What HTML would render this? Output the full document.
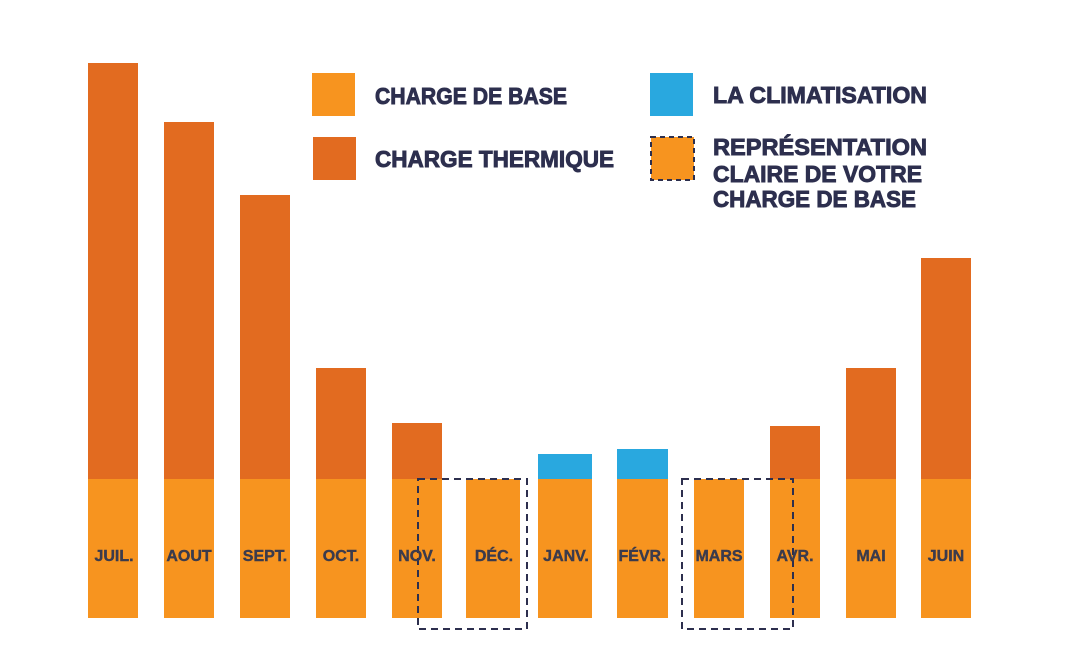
<!DOCTYPE html>
<html><head><meta charset="utf-8"><style>body{margin:0;background:#fff}svg{display:block}</style></head><body>
<svg width="1067" height="666" viewBox="0 0 1067 666" xmlns="http://www.w3.org/2000/svg" font-family="Liberation Sans, sans-serif" font-weight="bold">
<g fill="#e26b20">
<rect x="88" y="63" width="50" height="416"/>
<rect x="164" y="122" width="50" height="357"/>
<rect x="240" y="195" width="50" height="284"/>
<rect x="316" y="368" width="50" height="111"/>
<rect x="392" y="423" width="50" height="56"/>
<rect x="770" y="426" width="50" height="53"/>
<rect x="846" y="368" width="50" height="111"/>
<rect x="921" y="258" width="50" height="221"/>
</g>
<g fill="#29a8df">
<rect x="538" y="454" width="54" height="25"/>
<rect x="617" y="449" width="51" height="30"/>
</g>
<g fill="#f7941f">
<rect x="88" y="479" width="50" height="139"/>
<rect x="164" y="479" width="50" height="139"/>
<rect x="240" y="479" width="50" height="139"/>
<rect x="316" y="479" width="50" height="139"/>
<rect x="392" y="479" width="50" height="139"/>
<rect x="466" y="479" width="54" height="139"/>
<rect x="538" y="479" width="54" height="139"/>
<rect x="617" y="479" width="51" height="139"/>
<rect x="694" y="479" width="50" height="139"/>
<rect x="770" y="479" width="50" height="139"/>
<rect x="846" y="479" width="50" height="139"/>
<rect x="921" y="479" width="50" height="139"/>
</g>
<g fill="none" stroke="#2d2f4e" stroke-width="2" stroke-dasharray="7,5">
<rect x="418" y="479" width="109" height="150"/>
<rect x="682" y="479" width="111" height="150"/>
</g>
<g fill="#3b3b4c" stroke="#3b3b4c" stroke-width="0.4" font-size="16" text-anchor="middle">
<text x="114" y="561">JUIL.</text><text x="189" y="561">AOUT</text><text x="265" y="561">SEPT.</text>
<text x="341" y="561">OCT.</text><text x="417" y="561">NOV.</text><text x="494" y="561">DÉC.</text>
<text x="566" y="561">JANV.</text><text x="642" y="561">FÉVR.</text><text x="719" y="561">MARS</text>
<text x="795" y="561">AVR.</text><text x="871" y="561">MAI</text><text x="946" y="561">JUIN</text>
</g>
<rect x="312" y="73" width="43" height="43" fill="#f7941f"/>
<rect x="313" y="137" width="43" height="43" fill="#e26b20"/>
<rect x="650" y="73" width="43" height="43" fill="#29a8df"/>
<rect x="651" y="137" width="43" height="43" fill="#f7941f" stroke="#2d2f4e" stroke-width="2" stroke-dasharray="5,4"/>
<g fill="#2d2f4e" stroke="#2d2f4e" stroke-width="0.9" font-size="23">
<text x="375" y="104" textLength="192" lengthAdjust="spacingAndGlyphs">CHARGE DE BASE</text>
<text x="375" y="167" textLength="239" lengthAdjust="spacingAndGlyphs">CHARGE THERMIQUE</text>
<text x="713" y="103" textLength="214" lengthAdjust="spacingAndGlyphs">LA CLIMATISATION</text>
<text x="713" y="155" textLength="214" lengthAdjust="spacingAndGlyphs">REPRÉSENTATION</text>
<text x="713" y="182" textLength="209" lengthAdjust="spacingAndGlyphs">CLAIRE DE VOTRE</text>
<text x="713" y="207" textLength="203" lengthAdjust="spacingAndGlyphs">CHARGE DE BASE</text>
</g>
</svg>
</body></html>
